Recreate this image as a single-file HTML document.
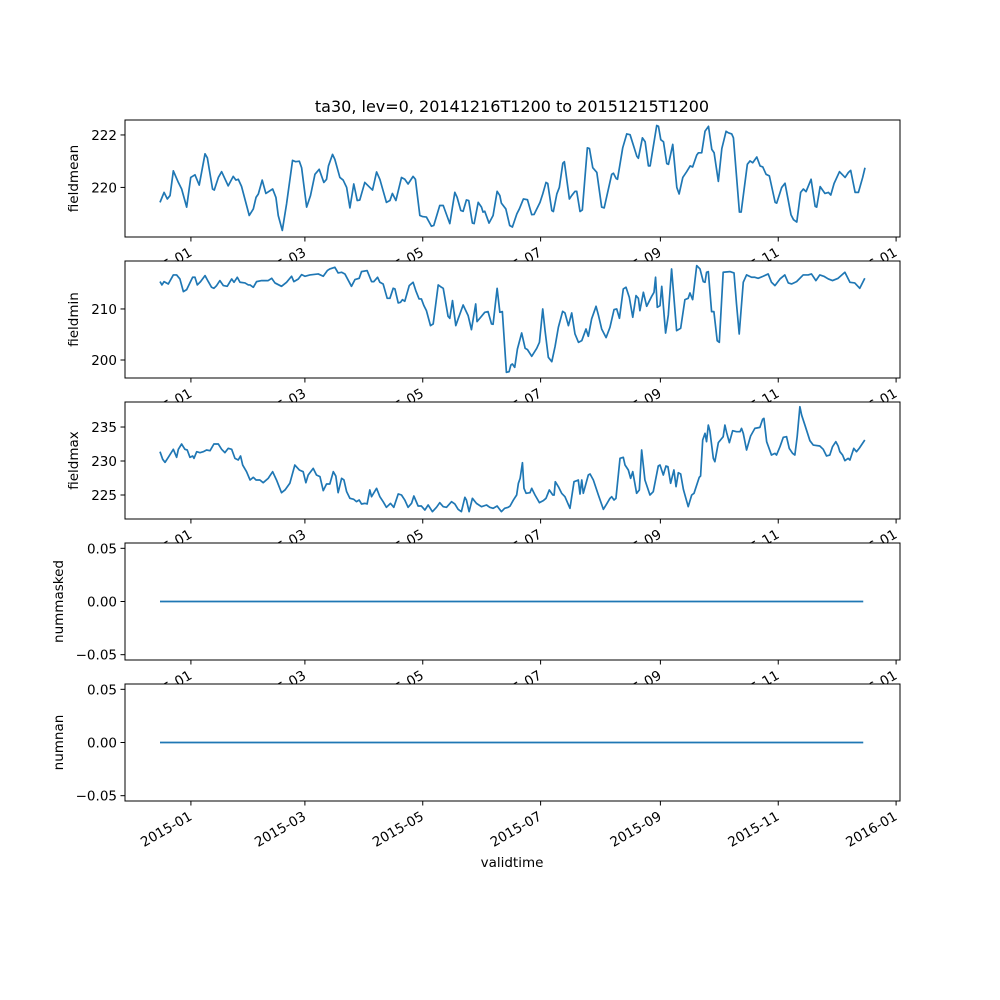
<!DOCTYPE html>
<html><head><meta charset="utf-8"><style>
html,body{margin:0;padding:0;background:#fff;}
svg{display:block;font-family:"DejaVu Sans","Liberation Sans",sans-serif;}
</style></head><body>
<svg id="chart" width="1000" height="1000" viewBox="0 0 1000 1000">
<rect width="1000" height="1000" fill="#fff"/>
<text x="512" y="112" font-size="16" text-anchor="middle">ta30, lev=0, 20141216T1200 to 20151215T1200</text>
<text x="512" y="867" font-size="13.5" text-anchor="middle">validtime</text>
</svg>
<script>
// day offsets since 2014-12-16
const meanDays = [0,2.1,3.8,5.2,6.9,9.5,11.2,13.8,15.9,18.1,20.3,23.3,24.5,27.2,28.1,30.2,31.9,35.3,37.9,39.3,40.5,42.2,46.2,48.3,49.7,50.9,52.9,54.8,58.3,60,61.2,63.3,65.5,68.6,70.2,72.1,73.3,75.9,77.9,80.2,82.4,84.8,86.2,87.2,89.3,90.5,93.1,94.8,96.6,98.3,100.3,102.1,103.4,106,108.6,110,112.1,113.8,117.2,119,120.3,122.1,125,126.7,128.4,131,132.2,134.5,135.9,137.9,140.5,141.7,144.8,146.6,150,152.6,153.8,155.7,156.9,158.6,159.8,161.7,162.6,164.7,166.4,167.2,168.1,170.3,172.4,174.5,175.9,176.7,179,181,182.4,184.7,186,188.1,190.2,192.4,193.6,196.7,198.1,199.8,200.7,202.8,203.6,205.4,206.7,208.5,209.3,211.9,213.1,214.8,215.7,217.4,218.6,221.2,222.3,224,226.1,228.6,229.9,232.1,233.8,234.7,236.1,236.8,239.5,241.6,243.3,246.8,247.6,249.7,251.1,252.8,253.7,257.1,258,259.2,260.6,262.3,263.2,265.4,267.5,268.7,270.6,272.6,274.4,275.7,277.8,278.7,280.4,282.1,283.9,285.6,286.8,289,290.8,293,294.2,295.9,296.8,299.9,300.8,304,305.4,306.8,308.9,310.6,312,313.7,315.4,318.4,319.2,321.8,323.5,326.6,327.9,329.6,331.6,333,334.4,337,339.1,339.9,341.7,344.2,346,347.2,348.9,351.7,354.6,356.3,357.5,359.8,361.5,363.7,364.9];
const meanVals = [219.43,219.81,219.56,219.69,220.63,220.19,219.94,219.25,220.38,220.48,220.09,221.28,221.13,219.94,219.9,220.38,220.6,220.06,220.42,220.28,220.31,220.04,218.93,219.18,219.62,219.75,220.28,219.77,219.94,219.62,218.93,218.36,219.37,221.03,220.98,221.0,220.75,219.25,219.69,220.5,220.69,220.19,220.31,220.82,221.26,221.07,220.38,220.28,220.0,219.22,220.13,219.5,219.52,220.19,220.0,219.9,220.59,220.31,219.43,219.5,219.77,219.5,220.38,220.31,220.13,220.42,220.31,218.93,218.89,218.87,218.52,218.55,219.31,219.31,218.62,219.81,219.62,219.12,219.09,219.52,219.5,218.64,218.62,219.43,219.25,219.06,219.09,218.64,218.93,219.85,219.69,219.4,219.18,218.55,218.49,218.99,219.18,219.56,219.53,218.96,218.97,219.43,219.75,220.19,220.15,219.12,219.08,219.75,220.0,220.92,220.98,219.56,219.69,219.85,219.85,219.08,219.14,221.51,221.48,220.75,220.57,219.25,219.22,219.94,220.5,220.54,220.34,220.31,221.51,222.04,222.01,221.19,221.11,221.89,221.74,220.82,220.82,222.36,222.33,221.82,221.74,220.91,220.88,221.64,220.0,219.75,220.38,220.6,220.82,220.78,221.23,221.32,221.32,222.14,222.33,221.45,221.32,220.23,221.48,222.14,222.08,222.04,221.89,219.06,219.06,220.88,221.01,220.94,221.16,220.82,220.78,220.5,220.44,219.43,219.4,220.0,220.16,218.96,218.77,218.68,219.81,219.94,219.84,220.31,219.28,219.25,220.03,219.77,219.81,219.71,220.15,220.6,220.38,220.57,220.65,219.81,219.81,220.38,220.75];

const minDays = [0,1,2.1,4.3,6.9,8.6,10.3,12.1,13.8,15.2,16.9,18.1,19.3,21,23.3,25,26.7,27.9,29.3,31,32.8,34.8,37.1,38.3,40,41.4,44,45.7,46.6,48.3,50,52.6,56,57.8,59.5,62.9,65.5,68.1,69.3,71.6,73.3,75,77.6,81.9,84.5,86.6,87.9,90.5,92.2,94,95.7,99.1,100.9,103.1,104.3,107.2,109.5,110.7,112.6,113.8,115.5,117.6,119,120.7,121.6,123.3,124.5,125.5,126.7,129,131,132.4,134.1,135.3,136.6,137.9,140,141.4,144,145.7,146.6,149.1,150,151.4,153.1,154.3,156.9,159.5,161.2,163.4,164.1,166.4,168.1,169.8,171.6,172.4,174.5,175.9,177.2,179.3,180.7,181.6,182.4,183.6,185,187.2,189,190.2,192.4,195,196.4,198.1,199.3,201,202.8,204.5,206.2,208.4,209.6,211.4,213.1,214.8,216.6,218.3,220.5,221.7,223.4,225.7,226.9,228.6,230.9,232.9,235,236.4,237.8,239.8,241.2,242.9,244.7,246.4,247.6,248.4,250.2,251.9,254.5,255.7,256.5,257.4,258.8,259.7,261.7,263.1,264.8,267.4,269.5,271.7,273.4,274.3,275.7,277.8,279.5,281.2,282.1,282.9,283.8,285.5,286.7,288.4,289.5,291.5,295,297.1,298.4,299.8,301.9,303.6,306.2,307.9,309.6,312.2,314.8,316.5,318.3,320.9,323.4,325.2,326.9,329.5,332.9,335.5,337.2,339.5,341.5,343.6,345.9,348.1,351,354.5,357.1,359.6,362.2,364.8];
const minVals = [215.36,214.71,215.36,214.9,216.67,216.67,215.88,213.4,213.79,214.9,216.21,216.21,214.71,215.36,216.54,215.36,214.25,214.05,214.58,215.56,214.58,214.44,215.88,215.23,216.21,215.23,215.1,214.71,214.71,214.25,215.36,215.56,215.56,216.01,215.1,214.44,215.23,216.41,215.36,215.88,216.73,216.41,216.67,216.86,216.41,217.52,217.84,218.17,217.06,217.19,216.86,214.44,215.75,216.01,217.32,217.52,215.36,215.36,216.21,215.23,214.9,212.09,212.09,214.05,213.92,211.18,211.31,211.83,211.5,214.58,215.23,213.59,211.96,211.96,210.65,209.67,206.73,207.06,214.71,214.25,214.05,208.56,208.17,211.63,206.73,208.04,210.78,208.69,205.95,210.98,207.52,208.56,209.35,209.48,207.06,206.99,214.05,209.35,209.48,197.58,197.71,199.0,199.22,198.56,202.16,205.29,202.29,202.03,200.72,202.29,203.46,210.0,205.75,200.52,199.67,202.68,206.41,209.54,209.22,206.73,209.22,205.1,203.46,203.79,206.08,204.64,208.04,210.52,208.82,206.08,204.38,206.41,209.87,210.0,208.17,213.92,214.25,212.29,208.37,212.61,212.09,209.67,213.27,210.52,212.48,213.27,216.21,210.33,210.65,214.44,205.29,208.82,217.84,205.75,206.21,211.83,212.09,213.14,211.83,218.5,217.84,215.36,215.23,217.19,217.32,209.48,209.48,203.79,203.46,217.19,217.32,217.06,210.98,205.1,215.23,216.67,216.21,216.21,216.01,216.41,216.86,215.23,214.58,215.88,216.67,215.1,214.9,215.36,216.67,216.67,216.86,215.56,216.67,216.41,215.88,215.56,216.01,217.19,215.23,215.1,214.05,216.01];

const maxDays = [0,1.4,2.6,4.3,6.9,8.6,9.5,11.2,12.9,14.1,15.5,16.9,17.6,19,20.7,22.4,24.1,25.9,27.9,30.2,31.9,33.6,35.3,37.1,38.8,40.5,41.7,42.8,44.8,46.6,48.3,49.7,51.7,53.4,56,58.3,60.3,62.9,64.7,67.2,69.8,72.1,74.1,75.5,76.7,79.3,81,82.8,84.5,86.2,87.9,89.7,91,92.2,94,95.2,96.6,98.3,100.3,101.7,103.1,104.3,106,107.2,108.6,109.5,112.1,113.8,115.5,117.2,119.3,121,123.3,125,126.7,128.4,130.2,131.4,133.6,135.3,137.1,138.8,141,143.1,144.8,146.6,148.3,150.9,152.6,154.3,156,157.8,158.6,160,161.7,163.8,166.4,169,170.7,172.4,174.5,176.7,178.4,180.2,181.2,182.9,184.6,185.5,186.4,187.6,188.4,189.5,191.5,192.4,194.1,196.4,198.4,199.8,201.5,203.3,204,204.6,206.2,207.9,209.6,212.2,214.3,215.7,216.5,217.4,218.3,219.1,221.7,222.6,224.3,226.9,229.5,231.2,232.9,233.8,235,236,238.1,239.8,240.7,242.4,243.6,244.7,246.7,248.1,249.3,251,253.6,255.3,257.9,258.8,260.5,261.9,262.9,264.3,266,267.1,268.3,269.5,270.9,273.4,275.2,276.4,279.1,279.8,280.9,282.1,282.9,283.8,284.6,286.4,287.2,289,291.5,292.4,293.3,294.7,296.4,298.4,300.2,301,301.9,303.6,305.7,307.9,310.5,311.9,312.6,314,316.5,318.3,319.1,320.9,322.6,324.3,325.7,327.4,328.6,329.8,331.2,332.1,333.8,336.4,338.1,341.5,343.3,345,346.7,348.1,349.8,351,351.9,353.3,354.5,356.2,357.1,359.1,360.5,361.9,364.8];
const maxVals = [231.37,230.25,229.8,230.54,231.72,230.54,231.72,232.5,231.72,231.62,230.54,230.74,230.39,231.37,231.23,231.37,231.62,231.52,232.5,232.5,231.72,231.23,231.86,231.72,230.39,230.15,230.74,229.41,228.43,227.21,227.6,227.21,227.21,226.81,227.45,228.43,227.21,225.34,225.74,226.72,229.41,228.68,228.43,226.81,227.94,228.92,227.94,227.7,225.64,226.62,226.62,228.43,227.79,225.34,227.45,227.21,225.49,224.51,224.36,224.02,224.26,223.68,223.77,223.68,225.74,224.75,225.98,224.75,224.02,223.19,223.77,223.19,225.15,225,224.26,223.19,223.77,224.85,223.38,223.38,222.79,223.53,222.55,223.19,223.87,223.28,223.19,224.02,223.68,222.89,222.55,224.66,224.26,222.55,224.51,223.77,223.28,223.53,223.19,223.04,223.38,222.55,223.04,223.19,223.38,224.26,225,226.72,227.45,229.75,225.98,225.25,225.34,225.98,225,223.87,224.17,224.51,225.74,225,225,226.96,226.23,225.25,224.75,223.04,226.96,227.11,227.21,225.15,227.21,225.25,227.94,228.09,227.21,225,222.89,223.68,224.51,224.75,224.26,224.51,230.39,230.54,229.41,228.68,227.45,228.43,225.25,225.74,231.62,227.21,225,225.49,229.26,229.41,227.94,229.26,229.17,226.72,228.68,226.23,228.28,228.09,225.83,223.28,225,225.25,227.6,227.79,233.09,234.07,232.84,235.29,234.46,230.39,229.9,232.7,233.58,235.29,234.17,232.7,234.46,234.31,234.31,234.8,234.07,231.62,233.68,234.8,234.95,236.13,236.27,232.84,230.88,231.13,230.88,232.11,233.48,233.58,231.86,231.13,230.88,233.58,237.99,236.76,235.29,232.99,232.35,232.21,231.72,230.74,230.88,232.11,232.84,232.21,231.37,230.88,230.05,230.39,230.15,231.86,231.37,231.86,233.09];

const zeroDays = [0,364];
const zeroVals = [0,0];

const xTickDays = [16,75,136,197,259,320,381];
const xTickLabels = ["2015-01","2015-03","2015-05","2015-07","2015-09","2015-11","2016-01"];

const panelNames = ["fieldmean","fieldmin","fieldmax","nummasked","numnan"];
const panelYMin = [218.11,196.47,221.47,-0.055,-0.055];
const panelYMax = [222.57,219.4,238.68,0.055,0.055];
const panelYTicks = [[220,222],[200,210],[225,230,235],[-0.05,0,0.05],[-0.05,0,0.05]];
const panelYTickLabels = [["220","222"],["200","210"],["225","230","235"],["\u22120.05","0.00","0.05"],["\u22120.05","0.00","0.05"]];
const panelDays = [meanDays,minDays,maxDays,zeroDays,zeroDays];
const panelVals = [meanVals,minVals,maxVals,zeroVals,zeroVals];

const NS = "http://www.w3.org/2000/svg";
const svg = document.getElementById("chart");
const L = 125, R = 900;
const tops = [120,261,402,543,684];
const H = 117;
const X0 = 160, PXD = 1.932;
function xScale(d){ return X0 + d*PXD; }
function mk(tag, attrs, parent){
  const e = document.createElementNS(NS, tag);
  for (const k in attrs) e.setAttribute(k, attrs[k]);
  (parent||svg).appendChild(e);
  return e;
}

for (let p = 0; p < 5; p++) {
  const top = tops[p], bot = top + H;
  const g = mk("g", {});
  
  
  const bg = mk("rect", {x:L, y:top, width:R-L, height:H, fill:"#fff"}, g);
  
  
  const ymin = panelYMin[p], ymax = panelYMax[p];
  const yScale = v => bot - (v - ymin) / (ymax - ymin) * H;
  const ds = panelDays[p], vs = panelVals[p];
  let d = "";
  const n = Math.min(ds.length, vs.length);
  for (let i = 0; i < n; i++) d += (i ? "L" : "M") + xScale(ds[i]).toFixed(2) + "," + yScale(vs[i]).toFixed(2);
  const line = mk("path", {d:d, fill:"none", stroke:"#1f77b4", "stroke-width":1.7, "stroke-linejoin":"round"}, g);
  
  
  const fr = mk("rect", {x:L, y:top, width:R-L, height:H, fill:"none", stroke:"#000", "stroke-width":1}, g);
  
  
  panelYTicks[p].forEach((t, i) => {
    const y = yScale(t);
    const tk = mk("line", {x1:L-4.5, x2:L, y1:y, y2:y, stroke:"#000", "stroke-width":1}, g);
    
    
    const tl = mk("text", {x:L-8, y:y+5, "font-size":13.5, "text-anchor":"end"}, g);
    tl.textContent = panelYTickLabels[p][i];
    
    
  });
  const yl = mk("text", {x:0, y:0, "font-size":13.5, "text-anchor":"middle", transform:"translate(" + (p>=3?63:78) + "," + (top+H/2) + ") rotate(-90)"}, g);
  yl.textContent = panelNames[p];
  
  
  xTickDays.forEach((td, i) => {
    const x = xScale(td);
    const tk = mk("line", {x1:x, x2:x, y1:bot, y2:bot+4.5, stroke:"#000", "stroke-width":1}, g);
    
    
    const tl = mk("text", {x:x+2, y:bot+18, "font-size":13.5, "text-anchor":"end", transform:"rotate(-30," + (x+2) + "," + (bot+18) + ")"}, g);
    tl.textContent = xTickLabels[i];
    
    
  });
}
</script>
</body></html>
